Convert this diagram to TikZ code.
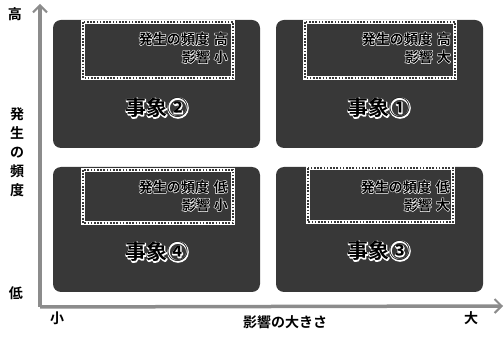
\documentclass[tikz,border=0pt]{standalone}
\usepackage{fontspec}
\newfontfamily\jp{Noto Sans CJK JP}[BoldFont={* Bold}]
\usetikzlibrary{arrows.meta}
\newcommand\halo[2][1.1]{\leavevmode\rlap{\special{pdf:literal direct 1 1 1 RG #1 w 1 j 1 Tr}#2\special{pdf:literal direct 0 Tr 0 G}}#2}
\definecolor{boxc}{gray}{0.22}
\definecolor{axisc}{gray}{0.55}
\tikzset{
  outerbox/.style={fill=boxc, rounded corners=8pt},
  stampw/.style={draw=white, line width=4pt},
  stampd/.style={draw=boxc, line width=1.8pt, dash pattern=on 1.6pt off 1.6pt},
  info/.style={font=\jp\bfseries\fontsize{14}{17}\selectfont, align=right, anchor=north east, inner sep=0pt},
  event/.style={font=\jp\bfseries\fontsize{21}{24}\selectfont, inner sep=0pt},
  axlab/.style={font=\jp\bfseries\fontsize{14}{16}\selectfont, inner sep=0pt},
  axis/.style={draw=axisc, line width=3.5pt, -{Straight Barb[length=7pt,width=14pt,line width=2pt]}},
}
\begin{document}
\begin{tikzpicture}[x=1pt,y=-1pt]
\useasboundingbox (0,0) rectangle (504,339);
\fill[white] (0,0) rectangle (504,339);
% outer boxes
\fill[outerbox] (53,20) rectangle (260,148);
\fill[outerbox] (276,20) rectangle (483,148);
\fill[outerbox] (53,167) rectangle (260,292);
\fill[outerbox] (276,167) rectangle (483,292);
% inner stamp frames
\foreach \x/\y/\X/\Y in {83/22/233/78, 305/22/455/78, 83/170/233/223, 308/168/453/222}{
  \draw[stampw] (\x,\y) rectangle (\X,\Y);
  \draw[stampd] (\x,\y) rectangle (\X,\Y);
}
% info texts
\node[info] (i2) at (228,32) {\halo{発生の頻度\hspace{5pt}高}\\[1pt]\halo{影響\hspace{4pt}小}};
\node[info] (i1) at (451,32) {\halo{発生の頻度\hspace{5pt}高}\\[1pt]\halo{影響\hspace{4pt}大}};
\node[info] (i4) at (228,180) {\halo{発生の頻度\hspace{5pt}低}\\[1pt]\halo{影響\hspace{4pt}小}};
\node[info] (i3) at (450,180) {\halo{発生の頻度\hspace{5pt}低}\\[1pt]\halo{影響\hspace{4pt}大}};
% event labels
\node[event] (e2) at (157,108) {\halo[1.8]{事象②}};
\node[event] (e1) at (379,108) {\halo[1.8]{事象①}};
\node[event] (e4) at (157,252) {\halo[1.8]{事象④}};
\node[event] (e3) at (379,251) {\halo[1.8]{事象③}};
% axes
\coordinate (o) at (40,307);
\coordinate (ytop) at (40,4);
\coordinate (xend) at (503,306);
\draw[axis] (o) -- (ytop);
\draw[axis] (o) -- (xend);
% axis labels
\node[axlab] (hi) at (15,14) {高};
\node[axlab] (lo) at (16,293) {低};
\node[axlab, align=center] (yl) at (17,152) {発\\[3pt]生\\[3pt]の\\[3pt]頻\\[3pt]度};
\node[axlab] (sm) at (57,318) {小};
\node[axlab] (xl) at (285,322) {影響の大きさ};
\node[axlab] (lg) at (471,318) {大};
\end{tikzpicture}
\end{document}
